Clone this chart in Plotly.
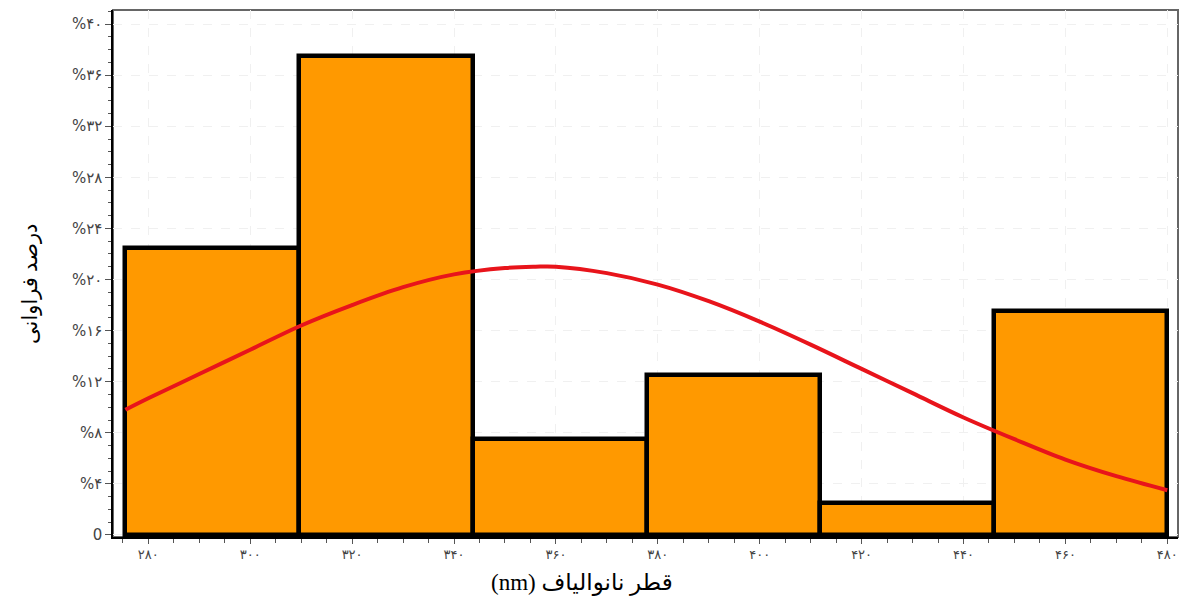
import plotly.graph_objects as go

# ---- data ----
bin_edges = [275.5, 309.6, 343.7, 377.8, 411.8, 445.9, 480.0]
bin_percent = [22.5, 37.5, 7.5, 12.5, 2.5, 17.5]

curve_x = [275.5, 280, 290, 300, 310, 320, 330, 340, 350, 356, 360, 370, 380,
           390, 400, 410, 420, 430, 440, 450, 460, 470, 480]
curve_y = [9.8, 10.7, 12.6, 14.5, 16.4, 18.0, 19.4, 20.4, 20.9, 21.0, 21.0, 20.5, 19.6,
           18.3, 16.7, 14.9, 13.0, 11.1, 9.2, 7.5, 5.9, 4.6, 3.5]

x_tickvals = [280, 300, 320, 340, 360, 380, 400, 420, 440, 460, 480]
x_ticktext = ["۲۸۰", "۳۰۰", "۳۲۰", "۳۴۰", "۳۶۰", "۳۸۰", "۴۰۰", "۴۲۰", "۴۴۰", "۴۶۰", "۴۸۰"]
y_tickvals = [0, 4, 8, 12, 16, 20, 24, 28, 32, 36, 40]
y_ticktext = ["0", "%۴", "%۸", "%۱۲", "%۱۶", "%۲۰", "%۲۴", "%۲۸", "%۳۲", "%۳۶", "%۴۰"]

x_title = "(nm) قطر نانوالیاف"
y_title = "درصد فراوانی"

centers = [(bin_edges[i] + bin_edges[i + 1]) / 2 for i in range(len(bin_percent))]
widths = [bin_edges[i + 1] - bin_edges[i] for i in range(len(bin_percent))]

fig = go.Figure()
fig.add_trace(go.Bar(
    x=centers, y=bin_percent, width=widths,
    marker=dict(color="#FF9900", line=dict(color="black", width=4.5)),
    showlegend=False, hoverinfo="skip",
))
fig.add_trace(go.Scatter(
    x=curve_x, y=curve_y, mode="lines", line=dict(color="#E8141B", width=4, shape="spline"),
    showlegend=False, hoverinfo="skip",
))

fig.update_xaxes(
    range=[273.07, 482.1], tickmode="array", tickvals=x_tickvals, ticktext=x_ticktext,
    ticks="outside", ticklen=5, tickcolor="#555",
    tickfont=dict(family="DejaVu Sans, Noto Sans", size=13, color="#444"),
    showline=True, linecolor="black", linewidth=1.5,
    showgrid=True, gridcolor="#f0f0f0", griddash="dash", gridwidth=1,
    zeroline=False,
    minor=dict(tickmode="linear", tick0=0, dtick=5, ticks="outside", ticklen=4,
               tickcolor="#555", showgrid=False),
)
fig.update_yaxes(
    range=[-0.16, 41.1], tickmode="array", tickvals=y_tickvals, ticktext=y_ticktext,
    ticks="outside", ticklen=6, tickcolor="#555",
    tickfont=dict(family="DejaVu Sans, Noto Sans", size=15, color="#444"),
    showline=True, linecolor="black", linewidth=1.5,
    showgrid=True, gridcolor="#f0f0f0", griddash="dash", gridwidth=1,
    zeroline=False,
    minor=dict(tickmode="linear", tick0=0, dtick=1, ticks="outside", ticklen=3,
               tickcolor="#555", showgrid=False),
)

fig.add_shape(type="rect", xref="paper", yref="paper", x0=0, x1=1, y0=0, y1=1,
              line=dict(color="#666", width=2), layer="below")

fig.add_annotation(text=x_title, xref="paper", yref="paper", x=(582 - 113) / 1065, y=-0.088,
                   xanchor="center", yanchor="middle", showarrow=False,
                   font=dict(family="Liberation Serif, DejaVu Serif, DejaVu Sans", size=23, color="black"))
fig.add_annotation(text=y_title, xref="paper", yref="paper", x=-0.078, y=(537 - 284) / 527,
                   xanchor="center", yanchor="middle", showarrow=False, textangle=-90,
                   font=dict(family="Liberation Serif, DejaVu Serif, DejaVu Sans", size=21, color="black"))

fig.update_layout(
    width=1184, height=603,
    margin=dict(l=113, r=6, t=10, b=66),
    paper_bgcolor="white", plot_bgcolor="white",
    bargap=0,
)

fig.write_html("out.html", config={"displayModeBar": False},
               post_script="document.body.style.margin='0';document.body.style.overflow='hidden';")
